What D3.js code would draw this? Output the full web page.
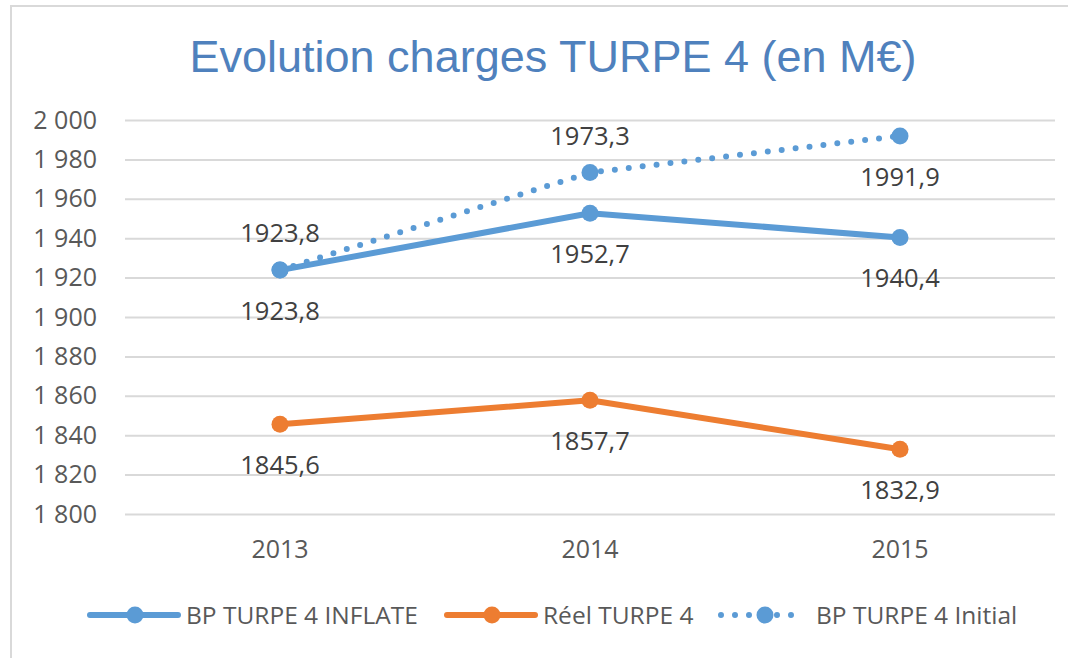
<!DOCTYPE html>
<html>
<head>
<meta charset="utf-8">
<script src="https://cdn.jsdelivr.net/npm/d3@7"></script>
<style>
  body { margin: 0; background: #fff; }
  svg { display: block; }
</style>
</head>
<body>
<div id="chart"></div>
<script>
// Data
const years = ['2013', '2014', '2015'];
const bpInflate = [1923.8, 1952.7, 1940.4];
const reel = [1845.6, 1857.7, 1832.9];
const bpInitial = [1923.8, 1973.3, 1991.9];
const yTicks = [1800, 1820, 1840, 1860, 1880, 1900, 1920, 1940, 1960, 1980, 2000];

const series = [
  { name: 'BP TURPE 4 INFLATE', values: bpInflate, color: '#5B9BD5', dotted: false, labelPos: ['below', 'below', 'below'] },
  { name: 'Réel TURPE 4', values: reel, color: '#ED7D31', dotted: false, labelPos: ['below', 'below', 'below'] },
  { name: 'BP TURPE 4 Initial', values: bpInitial, color: '#5B9BD5', dotted: true, labelPos: ['above', 'above', 'below'] }
];

// Config
const width = 1068;
const height = 658;
const margin = { top: 120, right: 13, bottom: 144, left: 125 };
const font = '"Open Sans", "Liberation Sans", sans-serif';
const textColor = '#595959';

const svg = d3.select('#chart').append('svg')
  .attr('width', width)
  .attr('height', height);

// chart border (only top/left visible in frame)
svg.append('rect')
  .attr('x', 11)
  .attr('y', 6)
  .attr('width', 1200)
  .attr('height', 800)
  .attr('fill', 'none')
  .attr('stroke', '#d9d9d9')
  .attr('stroke-width', 2);

// Scales
const x = d3.scaleBand()
  .domain(years)
  .range([margin.left, width - margin.right]);

const y = d3.scaleLinear()
  .domain([1800, 2000])
  .range([height - margin.bottom, margin.top]);

const fmtTick = d => d3.format(',')(d).replace(',', ' ');
const fmtVal = d => d3.format('.1f')(d).replace('.', ',');

// Title
svg.append('text')
  .attr('x', 553)
  .attr('y', 72)
  .attr('text-anchor', 'middle')
  .attr('font-family', '"Liberation Sans", Arial, sans-serif')
  .attr('font-size', 45)
  .attr('fill', '#4F81BD')
  .text('Evolution charges TURPE 4 (en M€)');

// Y axis (grid + labels)
const yAxis = svg.append('g')
  .attr('transform', `translate(${margin.left},0)`)
  .call(d3.axisLeft(y)
    .tickValues(yTicks)
    .tickFormat(fmtTick)
    .tickSize(-(width - margin.left - margin.right))
    .tickPadding(28));
yAxis.select('.domain').remove();
yAxis.selectAll('.tick line')
  .attr('stroke', '#d9d9d9')
  .attr('stroke-width', 2);
yAxis.selectAll('.tick text')
  .attr('font-family', font)
  .attr('font-size', 25)
  .attr('fill', textColor);

// X axis labels
const xAxis = svg.append('g')
  .attr('transform', `translate(0,${height - margin.bottom})`)
  .call(d3.axisBottom(x).tickSize(0).tickPadding(26));
xAxis.select('.domain').remove();
xAxis.selectAll('.tick text')
  .attr('font-family', font)
  .attr('font-size', 25)
  .attr('fill', textColor);

const cx = d => x(d) + x.bandwidth() / 2;

const line = d3.line()
  .x(d => cx(d.year))
  .y(d => y(d.value));

// Lines, markers, labels
series.forEach(s => {
  const pts = years.map((yr, i) => ({ year: yr, value: s.values[i], pos: s.labelPos[i] }));
  const g = svg.append('g');

  g.append('path')
    .datum(pts)
    .attr('d', line)
    .attr('fill', 'none')
    .attr('stroke', s.color)
    .attr('stroke-width', 6)
    .attr('stroke-linecap', 'round')
    .attr('stroke-linejoin', 'round')
    .attr('stroke-dasharray', s.dotted ? '0 14' : null);

  g.selectAll('circle')
    .data(pts)
    .join('circle')
    .attr('cx', d => cx(d.year))
    .attr('cy', d => y(d.value))
    .attr('r', 8.5)
    .attr('fill', s.color);

  g.selectAll('text')
    .data(pts)
    .join('text')
    .attr('x', d => cx(d.year))
    .attr('y', d => y(d.value) + (d.pos === 'above' ? -37 : 41))
    .attr('dy', '0.35em')
    .attr('text-anchor', 'middle')
    .attr('font-family', font)
    .attr('font-size', 25.5)
    .attr('fill', '#404040')
    .text(d => fmtVal(d.value));
});

// Legend
const legendY = 615;
const legendX = [90, 447, 721];
series.forEach((s, i) => {
  const lg = svg.append('g')
    .attr('transform', `translate(${legendX[i]},${legendY})`);
  lg.append('line')
    .attr('x1', 0)
    .attr('x2', s.dotted ? 82 : 88)
    .attr('y1', 0)
    .attr('y2', 0)
    .attr('stroke', s.color)
    .attr('stroke-width', 6)
    .attr('stroke-linecap', 'round')
    .attr('stroke-dasharray', s.dotted ? '0 14' : null);
  lg.append('circle')
    .attr('cx', s.dotted ? 44 : 45)
    .attr('cy', 0)
    .attr('r', 8.5)
    .attr('fill', s.color);
  lg.append('text')
    .attr('x', s.dotted ? 95 : 96)
    .attr('y', 0)
    .attr('dy', '0.35em')
    .attr('font-family', font)
    .attr('font-size', 24.5)
    .attr('fill', textColor)
    .text(s.name);
});
</script>
</body>
</html>
